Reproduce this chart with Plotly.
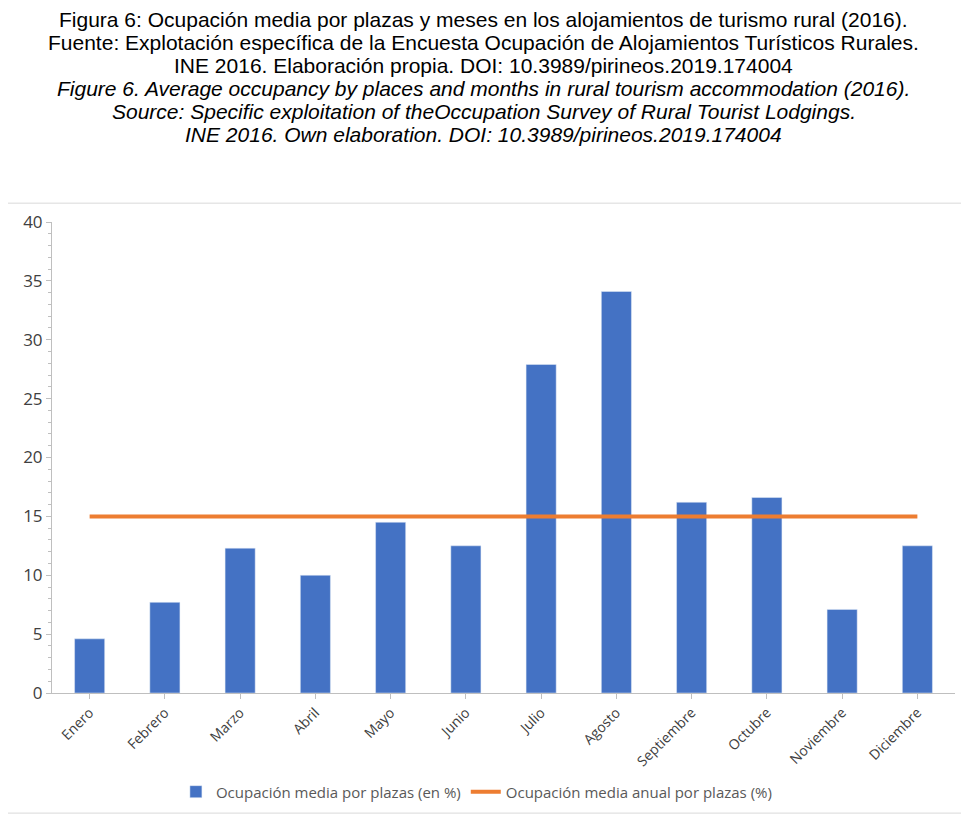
import plotly.graph_objects as go

meses = ["Enero", "Febrero", "Marzo", "Abril", "Mayo", "Junio", "Julio", "Agosto",
         "Septiembre", "Octubre", "Noviembre", "Diciembre"]
ocupacion = [4.6, 7.7, 12.3, 10.0, 14.5, 12.5, 27.9, 34.1, 16.2, 16.6, 7.1, 12.5]
media_anual = [15.0] * 12

titulo = ["Figura 6: Ocupación media por plazas y meses en los alojamientos de turismo rural (2016).",
          "Fuente: Explotación específica de la Encuesta Ocupación de Alojamientos Turísticos Rurales.",
          "INE 2016. Elaboración propia. DOI: 10.3989/pirineos.2019.174004",
          "<i>Figure 6. Average occupancy by places and months in rural tourism accommodation (2016).</i>",
          "<i>Source: Specific exploitation of theOccupation Survey of Rural Tourist Lodgings.</i>",
          "<i>INE 2016. Own elaboration. DOI: 10.3989/pirineos.2019.174004</i>"]

fig = go.Figure()
fig.add_trace(go.Bar(x=meses, y=ocupacion, name="Ocupación media por plazas (en %)",
                     marker_color="#4472C4", width=0.4))
fig.add_trace(go.Scatter(x=meses, y=media_anual, mode="lines",
                         name="Ocupación media anual por plazas (%)",
                         line=dict(color="#ED7D31", width=4)))

# title lines, one annotation each (tight line spacing)
notas = []
for i, t in enumerate(titulo):
    notas.append(dict(text=t, xref="paper", yref="paper", x=0.478, y=1.429 - i * 0.0488,
                      xanchor="center", yanchor="middle", showarrow=False,
                      font=dict(family="Liberation Sans", size=21, color="black")))

fig.update_layout(
    width=969, height=815,
    margin=dict(l=44, r=22, t=214, b=130),
    paper_bgcolor="white", plot_bgcolor="white",
    font=dict(family="Open Sans", color="#595959", size=14),
    showlegend=True,
    legend=dict(orientation="h", x=0.47, xanchor="center", y=-0.21, yanchor="middle",
                font=dict(size=15), traceorder="normal"),
    annotations=notas,
    shapes=[dict(type="rect", xref="paper", yref="paper", x0=-0.055, x1=1.012,
                 y0=-0.255, y1=1.04, line=dict(color="#D9D9D9", width=1))],
)
fig.update_yaxes(range=[0, 40], dtick=5, showgrid=False, showline=True, linecolor="#BFBFBF",
                 ticks="outside", ticklen=5, tickcolor="#BFBFBF",
                 minor=dict(dtick=1, ticks="outside", ticklen=3, tickcolor="#BFBFBF"),
                 tickfont=dict(size=17, color="#404040"))
fig.update_xaxes(showline=True, linecolor="#BFBFBF", ticks="outside", ticklen=5,
                 tickcolor="#BFBFBF", tickangle=-45, tickfont=dict(size=14, color="#404040"))

fig.write_html("out.html")
